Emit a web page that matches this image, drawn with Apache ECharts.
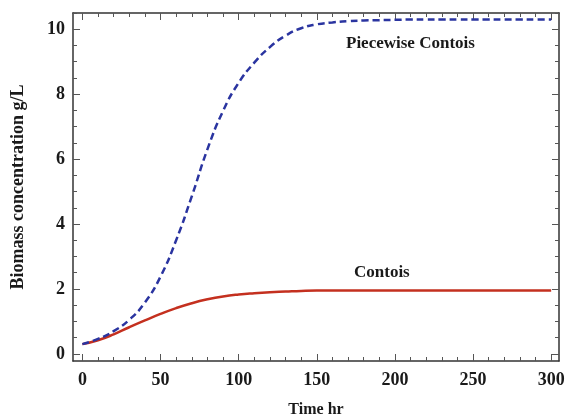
<!DOCTYPE html>
<html>
<head>
<meta charset="utf-8">
<script src="https://cdn.jsdelivr.net/npm/echarts@6/dist/echarts.min.js"></script>
<style>
html,body{margin:0;padding:0;background:#fff;}
#chart{width:565px;height:418px;}
</style>
</head>
<body>
<div id="chart"></div>
<script>
var timeHr = [0,10,20,30,40,50,60,70,80,90,100,110,120,130,140,150,160,170,180,190,200,210,220,230,240,250,260,270,280,290,300];
var contois = [0.30,0.42,0.60,0.82,1.03,1.23,1.41,1.56,1.68,1.77,1.83,1.87,1.90,1.92,1.94,1.95,1.95,1.955,1.955,1.955,1.955,1.955,1.955,1.955,1.955,1.955,1.955,1.955,1.955,1.955,1.955];
var piecewise = [0.30,0.46,0.70,1.05,1.58,2.38,3.50,4.85,6.30,7.48,8.35,8.97,9.45,9.80,10.03,10.15,10.21,10.25,10.27,10.28,10.29,10.30,10.30,10.30,10.30,10.30,10.30,10.30,10.30,10.30,10.30];
var xTicks = [0,50,100,150,200,250,300];
var xMinor = [];
for (var i = 0; i <= 300; i += 10) xMinor.push(i);
var yTicks = [0,2,4,6,8,10];
var yMinor = [];
for (var j = 0; j <= 10.5; j += 0.5) yMinor.push(j);

var font = '"Liberation Serif","Times New Roman",serif';
var axisColor = '#333';

function pairs(xs, ys){ return xs.map(function(x,k){ return [x, ys[k]]; }); }

function xAx(pos, ticks, len, showLine, showLabel, extra){
  var a = {
    type:'value', gridIndex:0, position:pos, min:-6, max:305,
    axisLine:{show:showLine, onZero:false, lineStyle:{color:axisColor, width:1.5}},
    axisTick:{show:true, inside:true, length:len, customValues:ticks, lineStyle:{color:'#555', width:1}},
    axisLabel:{show:showLabel, customValues:xTicks, fontFamily:font, fontWeight:'bold', fontSize:18, color:'#1a1a1a', margin:10},
    splitLine:{show:false}
  };
  if (extra) for (var k in extra) a[k] = extra[k];
  return a;
}
function yAx(pos, ticks, len, showLine, showLabel, extra){
  var a = {
    type:'value', gridIndex:0, position:pos, min:-0.22, max:10.5,
    axisLine:{show:showLine, onZero:false, lineStyle:{color:axisColor, width:1.5}},
    axisTick:{show:true, inside:true, length:len, customValues:ticks, lineStyle:{color:'#555', width:1}},
    axisLabel:{show:showLabel, customValues:yTicks, fontFamily:font, fontWeight:'bold', fontSize:18, color:'#1a1a1a', margin:8},
    splitLine:{show:false}
  };
  if (extra) for (var k in extra) a[k] = extra[k];
  return a;
}

var chart = echarts.init(document.getElementById('chart'), null, {renderer:'canvas'});
chart.setOption({
  backgroundColor:'#fff',
  animation:false,
  grid:{left:73, right:6, top:13, bottom:57, containLabel:false, outerBoundsMode:'none'},
  xAxis:[
    xAx('bottom', xTicks, 7, true, true, {name:'Time hr', nameLocation:'middle', nameGap:41,
      nameTextStyle:{fontFamily:font, fontWeight:'bold', fontSize:16, color:'#1a1a1a'}}),
    xAx('bottom', xMinor, 4, false, false),
    xAx('top', xTicks, 7, true, false),
    xAx('top', xMinor, 4, false, false)
  ],
  yAxis:[
    yAx('left', yTicks, 7, true, true, {name:'Biomass concentration g/L', nameLocation:'middle', nameGap:46, nameRotate:90,
      nameTextStyle:{fontFamily:font, fontWeight:'bold', fontSize:18, color:'#1a1a1a'}}),
    yAx('left', yMinor, 4, false, false),
    yAx('right', yTicks, 7, true, false),
    yAx('right', yMinor, 4, false, false)
  ],
  series:[
    {
      name:'Contois', type:'line', xAxisIndex:0, yAxisIndex:0,
      data:pairs(timeHr, contois), smooth:0.5, showSymbol:false,
      lineStyle:{color:'#c4301f', width:2.5}, z:3
    },
    {
      name:'Piecewise Contois', type:'line', xAxisIndex:0, yAxisIndex:0,
      data:pairs(timeHr, piecewise), smooth:0.5, showSymbol:false,
      lineStyle:{color:'#2a34a0', width:2.5, type:[7,4]}, z:4
    }
  ],
  graphic:[
    {type:'text', left:346, top:35, style:{text:'Piecewise Contois', fontFamily:font, fontWeight:'bold', fontSize:17, fill:'#1a1a1a'}},
    {type:'text', left:354, top:264, style:{text:'Contois', fontFamily:font, fontWeight:'bold', fontSize:17, fill:'#1a1a1a'}}
  ]
});
</script>
</body>
</html>
